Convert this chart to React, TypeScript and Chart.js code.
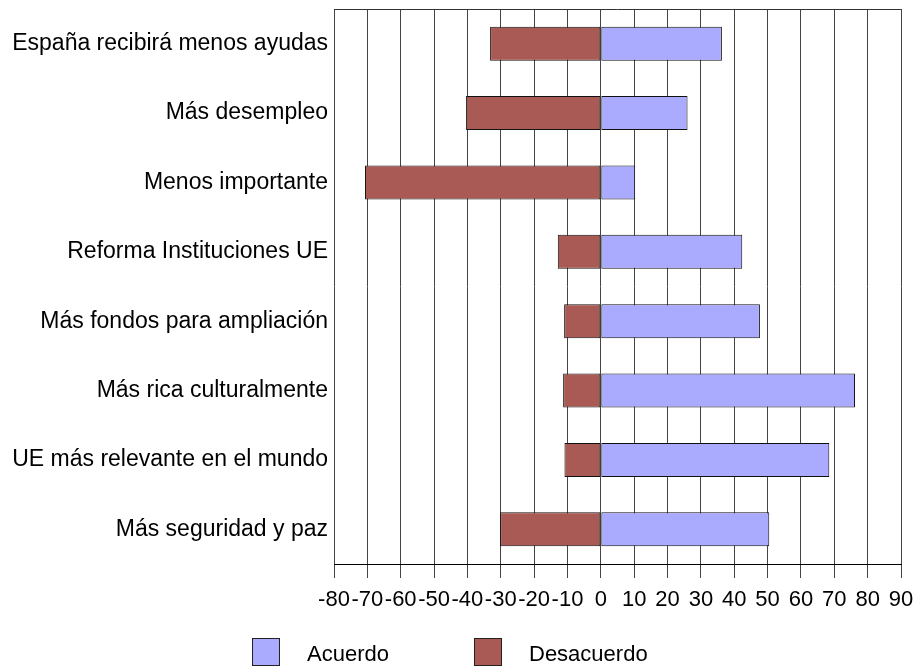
import React, { useEffect, useRef } from "react";
import { Chart, registerables } from "chart.js";

Chart.register(...registerables);

const categories = [
  "España recibirá menos ayudas",
  "Más desempleo",
  "Menos importante",
  "Reforma Instituciones UE",
  "Más fondos para ampliación",
  "Más rica culturalmente",
  "UE más relevante en el mundo",
  "Más seguridad y paz",
];
const acuerdo = [36.3, 26, 10.3, 42.4, 47.7, 76.2, 68.5, 50.5];
const desacuerdo = [-33.2, -40.4, -70.7, -12.9, -11, -11.3, -10.9, -30.2];
const xMin = -80;
const xMax = 90;
const xStep = 10;

const FONT = "'Liberation Sans', Arial, sans-serif";

const framePlugin = {
  id: "frame",
  afterDraw(chart: any) {
    const { ctx, chartArea } = chart;
    ctx.save();
    ctx.strokeStyle = "#333";
    ctx.lineWidth = 1;
    ctx.beginPath();
    ctx.moveTo(chartArea.left, Math.round(chartArea.top) + 0.5);
    ctx.lineTo(chartArea.right, Math.round(chartArea.top) + 0.5);
    ctx.stroke();
    // custom legend
    const ds = chart.data.datasets;
    const boxTop = 638;
    const box = 27;
    const positions = [252, 474];
    ctx.font = `22px ${FONT}`;
    ctx.textBaseline = "middle";
    ctx.textAlign = "left";
    ds.forEach((d: any, i: number) => {
      const x = positions[i];
      ctx.fillStyle = d.backgroundColor;
      ctx.fillRect(x + 0.5, boxTop + 0.5, box, box);
      ctx.strokeStyle = "#222";
      ctx.strokeRect(x + 0.5, boxTop + 0.5, box, box);
      ctx.fillStyle = "#000";
      ctx.fillText(d.label, x + 55, 655);
    });
    ctx.restore();
  },
};

export default function App() {
  const ref = useRef<HTMLCanvasElement>(null);
  useEffect(() => {
    document.body.style.margin = "0";
    const chart = new Chart(ref.current!, {
      type: "bar",
      data: {
        labels: categories,
        datasets: [
          {
            label: "Acuerdo",
            data: acuerdo,
            backgroundColor: "#aaaaff",
            borderColor: "#111",
            borderWidth: 1,
            borderSkipped: false,
          },
          {
            label: "Desacuerdo",
            data: desacuerdo,
            backgroundColor: "#aa5a55",
            borderColor: "#111",
            borderWidth: 1,
            borderSkipped: false,
          },
        ],
      },
      options: {
        indexAxis: "y",
        animation: false,
        responsive: false,
        maintainAspectRatio: false,
        layout: { padding: { top: 9, right: 15, bottom: 0, left: 0 } },
        plugins: {
          legend: { display: false },
          tooltip: { enabled: false },
          title: { display: false },
        },
        datasets: { bar: { categoryPercentage: 1, barPercentage: 0.49 } },
        scales: {
          x: {
            stacked: true,
            min: xMin,
            max: xMax,
            afterFit(scale: any) {
              scale.height = 102;
              scale.paddingLeft = 0;
              scale.paddingRight = 0;
            },
            ticks: {
              stepSize: xStep,
              autoSkip: false,
              maxRotation: 0,
              minRotation: 0,
              padding: 9,
              color: "#000",
              font: { family: FONT, size: 22 },
            },
            grid: {
              color: "#444",
              lineWidth: 1,
              drawTicks: true,
              tickLength: 14,
            },
            border: { color: "#000", width: 1 },
          },
          y: {
            stacked: true,
            afterFit(scale: any) {
              scale.width = 334;
              scale.paddingTop = 0;
              scale.paddingBottom = 0;
            },
            ticks: {
              padding: 6,
              color: "#000",
              font: { family: FONT, size: 23 },
            },
            grid: { display: false, drawTicks: false },
            border: { display: false },
          },
        },
      },
      plugins: [framePlugin],
    });
    return () => chart.destroy();
  }, []);
  return <canvas ref={ref} width={916} height={666} style={{ display: "block" }} />;
}
